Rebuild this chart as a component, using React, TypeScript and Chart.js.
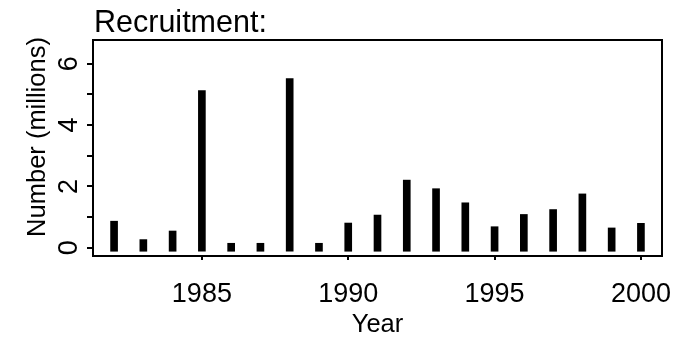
import React, { useEffect, useRef } from "react";
import { Chart, registerables } from "chart.js";

Chart.register(...registerables);

const YEARS = [1982, 1983, 1984, 1985, 1986, 1987, 1988, 1989, 1990, 1991, 1992, 1993, 1994, 1995, 1996, 1997, 1998, 1999, 2000];
const RECRUITMENT = [0.75, 0.15, 0.43, 5.01, 0.03, 0.03, 5.4, 0.03, 0.69, 0.95, 2.09, 1.81, 1.35, 0.57, 0.97, 1.13, 1.64, 0.53, 0.68];
const X_TICKS = [1985, 1990, 1995, 2000];
const Y_TICKS = [0, 1, 2, 3, 4, 5, 6];
const Y_TICK_LABELS = ["0", "", "2", "", "4", "", "6"];
const TITLE = "Recruitment:";
const X_LABEL = "Year";
const Y_LABEL = "Number (millions)";

const X_MIN = 1981.28;
const X_MAX = 2000.72;
const Y_MIN = -0.27;
const Y_MAX = 6.775;
const CAP = 0.115; // line-end cap of the R "h" style bars, in y units

const FONT = "'Liberation Sans', Arial, Helvetica, sans-serif";

const decorations = {
  id: "rDecorations",
  afterDraw(chart: any) {
    const ctx = chart.ctx;
    const { left, top, right, bottom } = chart.chartArea;
    const xs = chart.scales.x;
    const ys = chart.scales.y;
    ctx.save();
    ctx.strokeStyle = "#000";
    ctx.fillStyle = "#000";
    ctx.lineWidth = 2;
    // box
    ctx.strokeRect(left, top, right - left, bottom - top);
    // y ticks
    ctx.beginPath();
    Y_TICKS.forEach((v) => {
      const py = Math.round(ys.getPixelForValue(v));
      ctx.moveTo(left - 6, py);
      ctx.lineTo(left, py);
    });
    ctx.stroke();
    // x ticks
    ctx.beginPath();
    X_TICKS.forEach((v) => {
      const px = Math.round(xs.getPixelForValue(v));
      ctx.moveTo(px, bottom);
      ctx.lineTo(px, bottom + 4);
    });
    ctx.stroke();
    // x tick labels
    ctx.font = `27px ${FONT}`;
    ctx.textAlign = "center";
    ctx.textBaseline = "alphabetic";
    X_TICKS.forEach((v) => {
      ctx.fillText(String(v), xs.getPixelForValue(v), 301.5);
    });
    // y tick labels (rotated)
    Y_TICKS.forEach((v, i) => {
      const lbl = Y_TICK_LABELS[i];
      if (!lbl) return;
      ctx.save();
      ctx.translate(77, ys.getPixelForValue(v));
      ctx.rotate(-Math.PI / 2);
      ctx.fillText(lbl, 0, 0);
      ctx.restore();
    });
    // axis titles
    ctx.font = `25.5px ${FONT}`;
    ctx.fillText(X_LABEL, (left + right) / 2, 332);
    ctx.save();
    ctx.translate(44.5, 137);
    ctx.rotate(-Math.PI / 2);
    ctx.fillText(Y_LABEL, 0, 0);
    ctx.restore();
    // main title
    ctx.font = `30.5px ${FONT}`;
    ctx.textAlign = "left";
    ctx.fillText(TITLE, left + 1, 31.5);
    ctx.restore();
  },
};

export default function App() {
  const ref = useRef<HTMLCanvasElement | null>(null);
  useEffect(() => {
    if (!ref.current) return;
    const chart = new Chart(ref.current, {
      type: "bar",
      data: {
        datasets: [
          {
            data: YEARS.map((yr, i) => ({ x: yr, y: [-CAP, RECRUITMENT[i] + CAP] })) as any,
            backgroundColor: "#000",
            borderWidth: 0,
            barThickness: 7,
            grouped: false,
          } as any,
        ],
      },
      options: {
        responsive: false,
        devicePixelRatio: 1,
        animation: false,
        layout: { padding: { left: 93, top: 40, right: 26, bottom: 82 } },
        plugins: { legend: { display: false }, tooltip: { enabled: false }, title: { display: false } },
        scales: {
          x: { type: "linear", display: false, min: X_MIN, max: X_MAX, offset: false },
          y: { type: "linear", display: false, min: Y_MIN, max: Y_MAX },
        },
      },
      plugins: [decorations],
    });
    return () => chart.destroy();
  }, []);
  return (
    <div style={{ position: "absolute", left: 0, top: 0, width: 688, height: 338, background: "#fff" }}>
      <canvas ref={ref} width={688} height={338} style={{ display: "block" }} />
    </div>
  );
}
